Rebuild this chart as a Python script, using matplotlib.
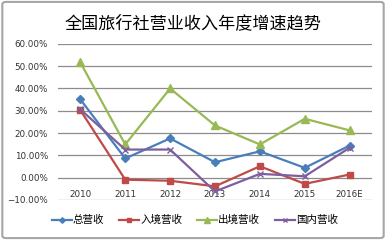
import matplotlib.pyplot as plt
from matplotlib.patches import FancyBboxPatch
from matplotlib.ticker import PercentFormatter

plt.rcParams['font.family'] = ['Noto Sans CJK SC', 'DejaVu Sans']

# ---- data ----
years = ['2010', '2011', '2012', '2013', '2014', '2015', '2016E']
total = [35.1, 8.6, 17.6, 6.9, 11.8, 4.4, 14.4]        # 总营收
inbound = [30.3, -0.9, -1.4, -3.9, 5.1, -2.8, 1.4]     # 入境营收
outbound = [51.7, 14.9, 40.0, 23.4, 14.9, 26.4, 21.2]  # 出境营收
domestic = [30.6, 12.6, 12.6, -6.2, 1.7, 0.6, 13.4]    # 国内营收
y_ticks = [-10, 0, 10, 20, 30, 40, 50, 60]

fig = plt.figure(figsize=(3.86, 2.40), dpi=100)
ax = fig.add_axes([0.150, 0.167, 0.814, 0.650])

x = range(len(years))
ax.plot(x, total, color='#4A7EBB', lw=1.6, marker='D', ms=4, label='总营收', zorder=3)
ax.plot(x, inbound, color='#BE4B48', lw=1.6, marker='s', ms=5, label='入境营收', zorder=3)
ax.plot(x, outbound, color='#98B954', lw=1.6, marker='^', ms=5.5, label='出境营收', zorder=3)
ax.plot(x, domestic, color='#7D5FA0', lw=1.6, marker='x', ms=4, mew=1, label='国内营收', zorder=4)

ax.set_xlim(-0.5, len(years) - 0.5)
ax.set_ylim(-10, 60)
ax.set_yticks(y_ticks)
ax.yaxis.set_major_formatter(PercentFormatter(decimals=2))
ax.set_xticks(list(x))
ax.set_xticklabels(years)
ax.grid(axis='y', color='#8C8C8C', lw=0.9)
ax.set_axisbelow(True)
for s in ax.spines.values():
    s.set_visible(False)
ax.tick_params(axis='y', length=0, labelsize=6.3, pad=7, colors='#333333')
ax.tick_params(axis='x', length=0, labelsize=6.3, pad=-7, colors='#333333')
for lab in ax.get_yticklabels() + ax.get_xticklabels():
    lab.set_family('DejaVu Sans')

fig.text(0.5, 0.905, '全国旅行社营业收入年度增速趋势', ha='center', va='center', fontsize=12.3)

ax.legend(loc='center', bbox_to_anchor=(0.505, 0.083), bbox_transform=fig.transFigure,
          ncol=4, frameon=False, fontsize=7.6, handlelength=1.9, handletextpad=0.1,
          columnspacing=1.4, markerscale=0.7)

# grey frame around the whole picture
fig.patches.append(FancyBboxPatch((0.006, 0.008), 0.988, 0.984, boxstyle='round,pad=0,rounding_size=0.01',
                                  transform=fig.transFigure, fill=False, ec='#A6A6A6', lw=1.5))

fig.savefig('out.png', dpi=100)
